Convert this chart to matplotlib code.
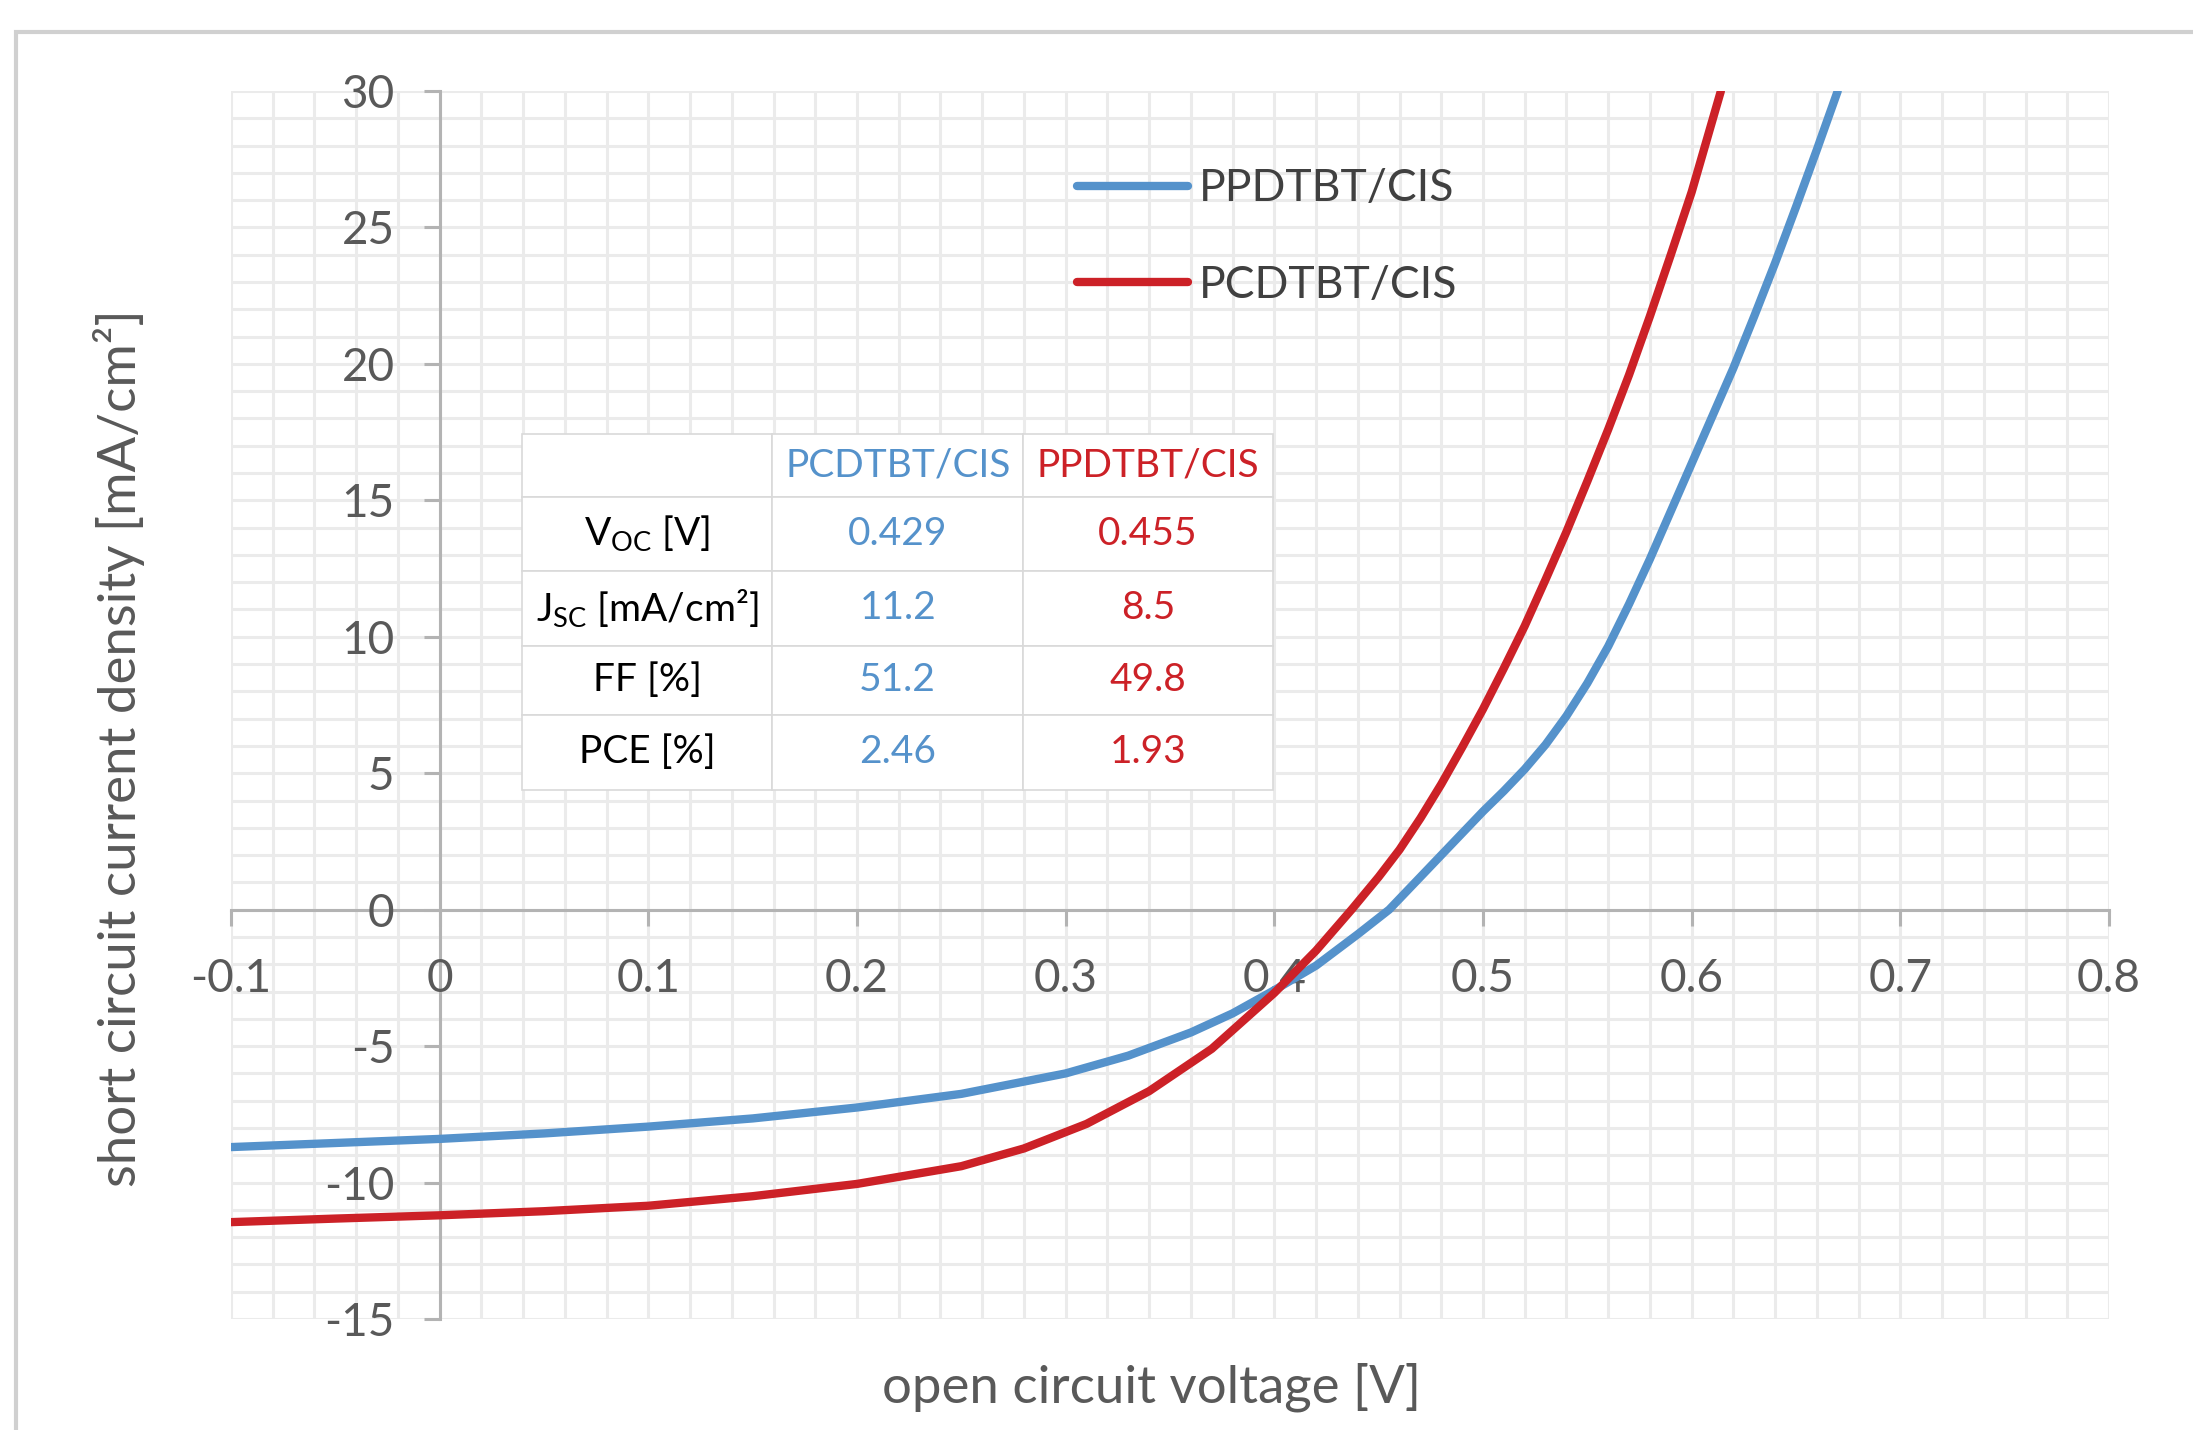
import matplotlib
matplotlib.use("Agg")
import numpy as np
import matplotlib.pyplot as plt
from matplotlib.ticker import FixedLocator
from matplotlib.patches import Rectangle
from matplotlib.lines import Line2D

plt.rcParams['font.family'] = ['Lato', 'DejaVu Sans']
plt.rcParams['mathtext.fontset'] = 'custom'
plt.rcParams['mathtext.rm'] = 'Lato'
plt.rcParams['axes.unicode_minus'] = False

# J-V curves
blue_v = [-0.10, -0.05, 0.00, 0.05, 0.10, 0.15, 0.20, 0.25, 0.30, 0.33, 0.36, 0.38,
          0.40, 0.42, 0.44, 0.455, 0.47, 0.48, 0.49, 0.50, 0.51, 0.52, 0.53, 0.54,
          0.55, 0.56, 0.57, 0.58, 0.59, 0.60, 0.61, 0.62, 0.63, 0.64, 0.65, 0.66, 0.67]
blue_j = [-8.70, -8.55, -8.40, -8.20, -7.95, -7.65, -7.25, -6.75, -6.00, -5.35, -4.50, -3.80,
          -2.95, -2.05, -0.90, 0.0, 1.20, 2.00, 2.80, 3.60, 4.35, 5.15, 6.05, 7.10,
          8.30, 9.65, 11.2, 12.85, 14.6, 16.35, 18.1, 19.85, 21.75, 23.7, 25.75, 27.85, 30.0]
red_v = [-0.10, -0.05, 0.00, 0.05, 0.10, 0.15, 0.20, 0.25, 0.28, 0.31, 0.34, 0.37,
         0.40, 0.42, 0.437, 0.45, 0.46, 0.47, 0.48, 0.49, 0.50, 0.51, 0.52, 0.53,
         0.54, 0.55, 0.56, 0.57, 0.58, 0.59, 0.60, 0.614]
red_j = [-11.45, -11.32, -11.20, -11.05, -10.85, -10.50, -10.05, -9.40, -8.75, -7.85, -6.65, -5.10,
         -3.05, -1.50, 0.0, 1.2, 2.2, 3.35, 4.6, 5.95, 7.35, 8.85, 10.4, 12.1,
         13.85, 15.7, 17.6, 19.6, 21.75, 24.0, 26.3, 30.0]
blue_label = "PPDTBT/CIS"
red_label = "PCDTBT/CIS"

xticks = [-0.1, 0.0, 0.1, 0.2, 0.3, 0.4, 0.5, 0.6, 0.7, 0.8]
xticklabels = ["-0.1", "0", "0.1", "0.2", "0.3", "0.4", "0.5", "0.6", "0.7", "0.8"]
yticks = [-15, -10, -5, 0, 5, 10, 15, 20, 25, 30]
yticklabels = ["-15", "-10", "-5", "0", "5", "10", "15", "20", "25", "30"]

# parameter table
tbl_header = ["", "PCDTBT/CIS", "PPDTBT/CIS"]
tbl_rows = [r"V$_\mathregular{OC}$ [V]", r"J$_\mathregular{SC}$ [mA/cm²]", "FF [%]", "PCE [%]"]
tbl_col1 = ["0.429", "11.2", "51.2", "2.46"]
tbl_col2 = ["0.455", "8.5", "49.8", "1.93"]

BLUE = '#5592cb'
RED = '#cc2127'
GRID = '#ebebeb'
AXIS = '#b3b3b3'
TXT = '#595959'

fig = plt.figure(figsize=(21.93, 14.30), dpi=100)
ax = fig.add_axes([0.10534, 0.07762, 0.85636, 0.85874])

# outer chart frame (runs off the right and bottom edge)
fig.add_artist(Rectangle((0.0075, -0.2), 1.5, 0.2 + 0.9776, transform=fig.transFigure,
                         fill=False, ec='#d0d0d0', lw=3, clip_on=False))

ax.set_xlim(-0.1, 0.8)
ax.set_ylim(-15, 30)

# grid drawn by hand so the tick labels sit on top of it
for gx in np.linspace(-0.1, 0.8, 46):
    ax.axvline(gx, color=GRID, lw=2.2, zorder=0.5)
for gy in np.linspace(-15, 30, 46):
    ax.axhline(gy, color=GRID, lw=2.2, zorder=0.5)

ax.plot(blue_v, blue_j, color=BLUE, lw=6, solid_capstyle='round', solid_joinstyle='round', zorder=4)
ax.plot(red_v, red_j, color=RED, lw=6, solid_capstyle='round', solid_joinstyle='round', zorder=4)

ax.xaxis.set_major_locator(FixedLocator(xticks))
ax.set_xticklabels(xticklabels)
ax.yaxis.set_major_locator(FixedLocator(yticks))
ax.set_yticklabels(yticklabels)
ax.set_axisbelow('line')

for s in ['top', 'right']:
    ax.spines[s].set_visible(False)
ax.spines['left'].set_position(('data', 0))
ax.spines['bottom'].set_position(('data', 0))
for s in ['left', 'bottom']:
    ax.spines[s].set_color(AXIS)
    ax.spines[s].set_linewidth(2.2)
    ax.spines[s].set_zorder(1)

ax.tick_params(which='major', direction='out', length=11.5, width=2.2, color=AXIS,
               labelcolor=TXT, labelsize=33)
ax.tick_params(axis='x', which='major', pad=23)
ax.tick_params(axis='y', which='major', pad=21)

fig.text(0.5249, 0.0301, "open circuit voltage [V]", ha='center', va='center',
         fontsize=38, color=TXT)
fig.text(0.0543, 0.4769, "short circuit current density [mA/cm²]", ha='center', va='center',
         rotation=90, fontsize=38, color=TXT)

handles = [Line2D([], [], color=BLUE, lw=6, solid_capstyle='round'),
           Line2D([], [], color=RED, lw=6, solid_capstyle='round')]
leg = ax.legend(handles, [blue_label, red_label], loc='upper left', bbox_to_anchor=(0.4505, 0.937),
                frameon=False, fontsize=32, handlelength=2.5, handletextpad=0.25,
                labelspacing=1.25, borderpad=0, borderaxespad=0, labelcolor='#404040')
leg.set_zorder(5)

cell_text = [tbl_header] + [[tbl_rows[i], tbl_col1[i], tbl_col2[i]] for i in range(4)]
tb = ax.table(cellText=cell_text, cellLoc='center', bbox=[0.155, 0.4308, 0.400, 0.290])
tb.auto_set_font_size(False)
tb.set_zorder(3)
row_h = [45, 53, 54, 49, 54]
for (r, c), cell in tb.get_celld().items():
    cell.set_edgecolor('#d9d9d9')
    cell.set_linewidth(1.2)
    cell.set_facecolor('white')
    cell.set_height(row_h[r])
    t = cell.get_text()
    t.set_fontsize(28)
    if c == 0:
        t.set_color('black')
    elif c == 1:
        t.set_color(BLUE)
    else:
        t.set_color(RED)

fig.savefig("out.png", dpi=100)
